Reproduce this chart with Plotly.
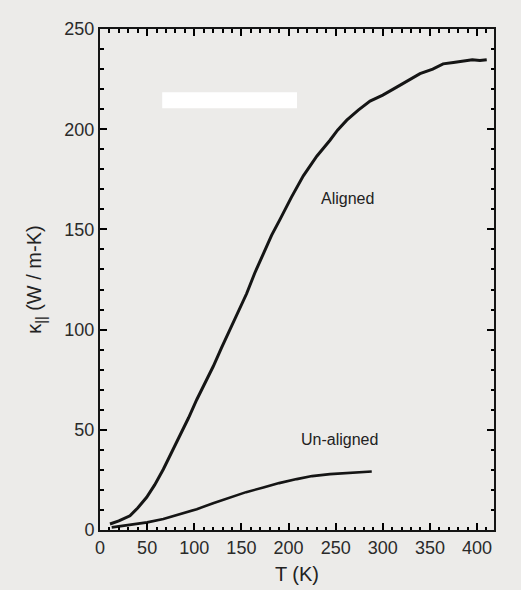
import plotly.graph_objects as go

# Aligned sample: temperature (K) and thermal conductivity (W / m-K)
aligned_T = [10.6, 20, 31.8, 40, 49.5, 58, 67.2, 76, 84.9, 94, 102.6, 111, 120.2, 129, 138,
             147, 155.6, 164, 173.3, 182, 191, 203, 215.7, 230, 244, 252, 261.8, 274,
             286.5, 300, 314.8, 326, 339.5, 353, 364, 375, 385, 395, 403, 410.3]
aligned_k = [3.0, 4.5, 7.1, 11.0, 16.3, 22.5, 30.3, 38.5, 47.0, 56.0, 65.0, 73.0, 81.7, 91.0, 100.0,
             109.0, 118.0, 128.0, 138.0, 147.0, 155.0, 166.0, 176.7, 186.5, 194.5, 199.5, 204.5, 209.5,
             214.0, 217.0, 221.0, 224.0, 227.7, 230.0, 232.6, 233.3, 234.0, 234.6, 234.3, 234.7]

# Un-aligned sample
unaligned_T = [12.4, 20, 31.8, 50, 67.2, 85, 102.6, 120, 138, 155, 173.3, 190, 208.7, 225, 244, 265, 288.3]
unaligned_k = [1.3, 1.8, 2.5, 3.8, 5.5, 7.8, 10.4, 13.3, 16.3, 18.9, 21.2, 23.4, 25.4, 26.9, 27.9, 28.6, 29.2]

series_labels = ["Aligned", "Un-aligned"]
label_T = [263, 254.6]
label_k = [165.6, 45.3]

x_dtick = 50
y_dtick = 50
minor_dtick = 10

bg = "#ecebe9"
ink = "#151515"
font_family = "Liberation Sans, Arial, sans-serif"

fig = go.Figure()
fig.add_trace(go.Scatter(x=aligned_T, y=aligned_k, mode="lines",
                         line=dict(color=ink, width=3),
                         name=series_labels[0], showlegend=False))
fig.add_trace(go.Scatter(x=unaligned_T, y=unaligned_k, mode="lines",
                         line=dict(color=ink, width=2.6),
                         name=series_labels[1], showlegend=False))

for lab, tx, ky in zip(series_labels, label_T, label_k):
    fig.add_annotation(x=tx, y=ky, text=lab, showarrow=False,
                       font=dict(size=16, color="#222", family=font_family))

# white-out patch present on the scanned page
fig.add_shape(type="rect", xref="x", yref="y", x0=66, x1=209, y0=210.5, y1=218.5,
              fillcolor="#ffffff", opacity=1, line=dict(width=0), layer="above")

axis_common = dict(
    showline=True, linecolor=ink, linewidth=2, mirror="allticks",
    ticks="inside", ticklen=7, tickwidth=2, tickcolor="#000000",
    showgrid=False, zeroline=False, automargin=False,
    tickfont=dict(size=18, color="#2a2a2a", family=font_family),
    minor=dict(ticks="inside", ticklen=3.5, tickwidth=1.5, tickcolor="#000000",
               dtick=minor_dtick, showgrid=False),
)

fig.update_xaxes(range=[0, 418], tickmode="linear", tick0=0, dtick=x_dtick,
                 title=dict(text="T (K)", font=dict(size=20, color="#222", family=font_family), standoff=10),
                 **axis_common)
fig.update_yaxes(range=[0, 250], tickmode="linear", tick0=0, dtick=y_dtick,
                 title=dict(text="κ<sub>||</sub> (W / m-K)", font=dict(size=20, color="#222", family=font_family), standoff=17),
                 **axis_common)

fig.update_layout(
    template="simple_white",
    width=521, height=590,
    margin=dict(l=100, r=27, t=29, b=60, pad=0),
    paper_bgcolor=bg, plot_bgcolor=bg,
    font=dict(family=font_family),
)

fig.write_html("out.html")
